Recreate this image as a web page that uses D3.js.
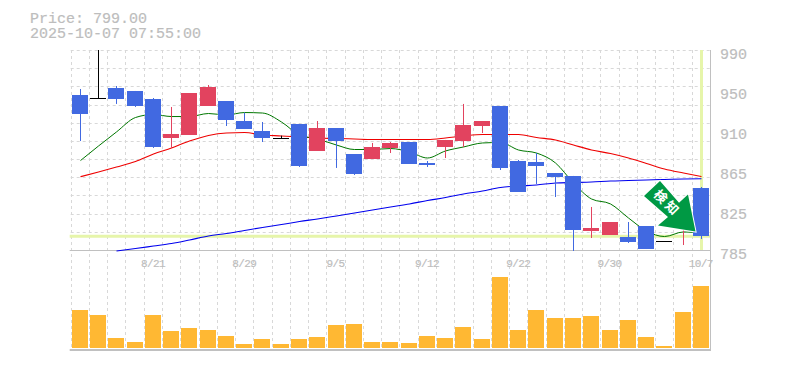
<!DOCTYPE html>
<html>
<head>
<meta charset="utf-8">
<script src="https://cdn.jsdelivr.net/npm/d3@7"></script>
<style>
html, body { margin: 0; padding: 0; background: #fff; }
text { font-family: "Liberation Mono", monospace; fill: #bdbdbd; stroke: #bdbdbd; stroke-width: 0.2px; }
</style>
</head>
<body>
<div id="chart"></div>
<script>
// trading days, one candle each
var dates = ["8/15","8/18","8/19","8/20","8/21","8/22","8/25","8/26","8/28","8/29",
  "9/1","9/2","9/3","9/4","9/5","9/8","9/9","9/10","9/11","9/12",
  "9/16","9/17","9/18","9/19","9/22","9/24","9/25","9/26","9/29","9/30",
  "10/1","10/2","10/3","10/6","10/7"];
var xLabels = ["8/21","8/29","9/5","9/12","9/22","9/30","10/7"];
var yTicks = [785,826,867,908,949,990];
var yLabels = ["785","825","865","910","950","990"];

var opens = [943.9,940.5,951,948,939.8,900.1,902.9,932.6,937.7,917.2,
  907,899.5,914.2,886.5,910,883.4,878.3,889.6,895.7,874.2,
  890.6,896.7,912.1,932.6,876.2,875.2,863.9,860.9,804.5,800.4,
  798.3,809.6,793.9,808.6,848.6];
var closes = [924.4,940.5,939.8,932.6,890.6,903.9,945.9,952.1,918.3,909,
  899.8,899.5,871.1,910,896.7,862.9,890.6,894.7,873.2,872.1,
  897.8,913.1,917.2,869.1,844.5,871.1,859.8,805.5,807.6,813.7,
  793.2,786,793.9,813.7,799];
var highs = [950,990,953.1,948,940.8,931.6,945.9,954.1,937.7,925.7,
  916.2,902.2,914.2,917.2,910,883.4,894.7,895.7,895.7,876.2,
  897.8,934.7,917.2,932.6,877.3,884.4,863.9,860.9,829.1,813.7,
  813.7,809.6,793.9,813.7,849.6];
var lows = [896.7,940.5,934.7,931.6,889.6,889.6,902.9,932.6,912.1,909,
  895.7,899.5,870.1,886.5,869.1,861.9,878.3,884.4,873.2,870.1,
  879.3,890.6,904.9,867,844.5,852.7,839.3,784,797.3,800.4,
  792.2,786,793.9,790.1,796.3];
var volume = [3800,3300,1000,600,3300,1700,2000,1800,1200,400,
  900,400,900,1100,2300,2400,600,600,500,1200,
  1000,2100,900,7100,1800,3800,3000,3000,3200,1800,
  2800,1100,200,3600,6200];

var maShort = [876.7,891.6,906,920.8,923.9,921.8,921.8,924.9,923.4,925.9,
  925.4,916.2,902.9,898.8,892.6,888,888,889,885.5,879.3,
  886.5,890.6,894.7,895.2,887.5,884.4,874.2,853.7,837.3,832.2,
  817.8,804.5,798.8,803.5,802.4];
var maMid = [860.1,865,870.1,875.7,883.4,889.6,896.7,902.4,904.9,905.4,
  902.9,901.9,900.8,899.8,899.3,898.8,898.3,898.3,898.3,898.3,
  899.8,901.9,903.4,903.4,903.4,900.3,897.8,892.6,887.5,883.9,
  879.3,873.7,868,863.9,860.3];
var maLong = [null,null,784,786.5,789.1,791.7,795.3,799.4,801.9,805,
  808.1,811.1,814.2,816.8,819.9,822.9,826,829.1,832.2,835.7,
  838.8,842.4,845.5,849.1,850.6,851.6,853.7,854.2,854.7,855.7,
  856.2,856.8,857.3,857.8,858.1];
var lastPrice = 799;

var W = 785, H = 370;
var plotLeft = 70.7, plotRight = 710, plotTop = 50, priceBottom = 250, volBottom = 348;

var svg = d3.select("#chart").append("svg")
  .attr("width", W).attr("height", H)
  .style("display", "block");

var x = d3.scaleBand().domain(dates).range([plotLeft, plotRight]).paddingInner(0.124).paddingOuter(0.062);
var y = d3.scaleLinear().domain([785, 990]).range([priceBottom, plotTop]);
var v = d3.scaleLinear().domain([0, 8000]).range([volBottom, volBottom - 80]);
var gap = (x.step() - x.bandwidth()) / 2;
var cx = function(d){ return Math.round(x(d) + x.bandwidth() / 2) + 0.5; };
var bx = function(d){ return Math.round(x(d)); };

// grid
var grid = svg.append("g").attr("stroke", "#d8d8d8").attr("stroke-dasharray", "3,3");
grid.selectAll(".gx").data(dates).enter().append("line")
  .attr("x1", function(d){ return Math.round(x(d) - gap) + 0.5; })
  .attr("x2", function(d){ return Math.round(x(d) - gap) + 0.5; })
  .attr("y1", plotTop).attr("y2", volBottom + 2);
grid.selectAll(".gy").data(d3.range(0, 11)).enter().append("line")
  .attr("x1", plotLeft).attr("x2", plotRight)
  .attr("y1", function(i){ return Math.round(y(785 + (i + 1) * 205 / 11)) + 0.5; })
  .attr("y2", function(i){ return Math.round(y(785 + (i + 1) * 205 / 11)) + 0.5; });

// current price cross hair
svg.append("line")
  .attr("x1", cx(dates[34])).attr("x2", cx(dates[34]))
  .attr("y1", plotTop).attr("y2", priceBottom)
  .attr("stroke", "#e6f5aa").attr("stroke-width", 3);
svg.append("line")
  .attr("x1", plotLeft - 1).attr("x2", plotRight)
  .attr("y1", y(lastPrice)).attr("y2", y(lastPrice))
  .attr("stroke", "#e6f5aa").attr("stroke-width", 3);

// frame
svg.append("line").attr("x1", plotLeft - 1).attr("x2", plotRight).attr("y1", 250.5).attr("y2", 250.5).attr("stroke", "#c0c0c0");
svg.append("line").attr("x1", 710.5).attr("x2", 710.5).attr("y1", plotTop).attr("y2", 351).attr("stroke", "#c0c0c0");
svg.append("line").attr("x1", plotLeft - 1).attr("x2", 711).attr("y1", 350).attr("y2", 350).attr("stroke", "#c0c0c0").attr("stroke-width", 2);

// moving averages
function maLine(values, color, width){
  var line = d3.line()
    .defined(function(d){ return d !== null; })
    .x(function(d, i){ return cx(dates[i]); })
    .y(function(d){ return y(d); })
    .curve(d3.curveMonotoneX);
  svg.append("path").datum(values)
    .attr("d", line)
    .attr("fill", "none")
    .attr("stroke", color)
    .attr("stroke-width", width);
}
maLine(maLong, "#0000ee", 1.1);
maLine(maMid, "#ee0000", 1.1);
maLine(maShort, "#007700", 1);

// candles
var upColor = "#e2435f", downColor = "#4169e1";
function candleColor(i){
  if (opens[i] == closes[i]) return "#000";
  return closes[i] > opens[i] ? upColor : downColor;
}
var candle = svg.selectAll(".candle").data(dates).enter().append("g").attr("class", "candle");
candle.append("line")
  .attr("x1", cx).attr("x2", cx)
  .attr("y1", function(d, i){ return y(highs[i]); })
  .attr("y2", function(d, i){ return y(lows[i]); })
  .attr("stroke", function(d, i){ return candleColor(i); });
candle.append("rect")
  .attr("x", bx)
  .attr("width", 16)
  .attr("y", function(d, i){ return Math.round(y(Math.max(opens[i], closes[i]))); })
  .attr("height", function(d, i){ return Math.max(1, Math.round(Math.abs(y(opens[i]) - y(closes[i])))); })
  .attr("fill", function(d, i){ return candleColor(i); });

// volume
svg.selectAll(".vol").data(volume).enter().append("rect")
  .attr("class", "vol")
  .attr("x", function(d, i){ return bx(dates[i]); })
  .attr("width", 16)
  .attr("y", function(d){ return v(d); })
  .attr("height", function(d){ return volBottom - v(d); })
  .attr("fill", "#ffb833");

// axes
var yAxis = d3.axisRight(y).tickValues(yTicks).tickSize(0).tickPadding(10)
  .tickFormat(function(d, i){ return yLabels[i]; });
var gy = svg.append("g").attr("transform", "translate(" + plotRight + ",0)").call(yAxis);
gy.select(".domain").remove();
gy.selectAll("text").attr("dy", "8px").style("font-size", "15px");

var xAxis = d3.axisBottom(x).tickValues(xLabels).tickSize(0).tickPadding(9);
var gx = svg.append("g").attr("transform", "translate(0," + priceBottom + ")").call(xAxis);
gx.select(".domain").remove();
gx.selectAll("text").style("font-size", "11px").style("letter-spacing", "-0.6px");

// header
svg.append("text").attr("x", 30).attr("y", 23).style("font-size", "15px").text("Price: 799.00");
svg.append("text").attr("x", 30).attr("y", 38).style("font-size", "15px").text("2025-10-07 07:55:00");

// signal arrow
var arrowPts = [[660,181],[644,196],[668,217],[658,225.5],[695.5,231.5],[688,194.5],[679,202.7]];
svg.append("polygon")
  .attr("points", arrowPts.join(" "))
  .attr("fill", "#009944")
  .attr("stroke", "#fff")
  .attr("stroke-width", 2)
  .style("paint-order", "stroke");
svg.append("text")
  .attr("transform", "translate(667.5,203) rotate(45)")
  .attr("text-anchor", "middle")
  .attr("dy", "0.38em")
  .style("font-family", "'Noto Sans CJK JP'")
  .style("font-size", "13px")
  .style("letter-spacing", "3px")
  .style("font-weight", "700")
  .style("fill", "#fff")
  .style("stroke", "none")
  .text("検知");
</script>
</body>
</html>
